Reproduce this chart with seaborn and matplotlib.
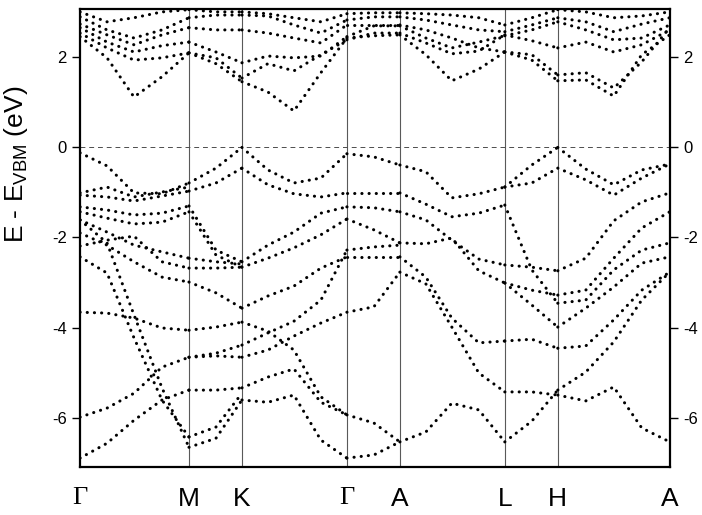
import matplotlib
matplotlib.use('Agg')
import matplotlib.pyplot as plt
import seaborn as sns
import pandas as pd

k_nodes = [0.00, 0.27, 0.54, 0.82, 1.09, 1.36, 1.62, 1.88, 2.14, 2.41, 2.67,
           2.94, 3.20, 3.46, 3.72, 3.99, 4.25, 4.52, 4.78, 5.06, 5.34, 5.62, 5.90]
sym_pos = [0.00, 1.09, 1.62, 2.67, 3.20, 4.25, 4.78, 5.90]
sym_labels = ['Γ', 'M', 'K', 'Γ', 'A', 'L', 'H', 'A']
# node index ranges of the path pieces Γ-M, M-K, K-Γ, Γ-A, A-L, L-H, H-A
pieces = [(0, 4), (4, 6), (6, 10), (10, 12), (12, 16), (16, 18), (18, 22)]

N = None

# conduction bands (eV)
cb1 = [2.46, 1.99, 1.12, 1.57, 2.10, 1.86, 1.46, 1.23, 0.81, 1.66, 2.43, 2.48, 2.50, 2.06, 1.48, 1.74, 2.12, 1.94, 1.48, 1.50, 1.14, 2.06, 2.50]
cb2 = [2.54, 2.21, 1.94, 1.99, 2.10, 1.99, 1.54, 1.86, 1.70, 2.06, 2.39, 2.54, 2.54, 2.32, 2.08, 2.14, 2.50, 2.37, 2.21, 2.34, 2.12, 2.28, 2.61]
cb3 = [2.66, 2.34, 2.12, 2.26, 2.34, 2.12, 1.88, 2.03, 1.99, 2.03, 2.46, 2.70, 2.70, 2.43, 2.21, 2.34, 2.48, 2.61, 2.79, 2.61, 2.39, 2.43, 2.72]
cb4 = [2.74, 2.50, 2.28, 2.50, 2.66, 2.61, 2.61, 2.54, 2.43, 2.32, 2.72, 2.72, 2.72, 2.61, 2.43, 2.21, 2.12, 2.06, 1.61, 1.66, 1.32, 1.90, 2.66]
cb5 = [2.90, 2.61, 2.43, 2.61, 2.88, 2.94, 2.94, 2.92, 2.72, 2.54, 2.83, 2.90, 2.90, 2.83, 2.72, 2.61, 2.57, 2.72, 2.88, 2.79, 2.57, 2.74, 2.88]
cb6 = [3.01, 2.79, 2.88, 3.01, 3.06, 3.01, 3.01, 2.97, 2.88, 2.79, 2.97, 2.99, 2.99, 2.97, 2.94, 2.88, 2.72, 2.88, 3.06, 3.01, 2.88, 2.92, 3.01]

# valence bands (eV); None = piece not drawn for that band
vb_a = [-0.12, -0.41, -1.01, -1.03, -0.79, -0.46, 0.00, -0.50, -0.79, -0.68, -0.14, -0.21, -0.39, -0.54, -1.12, -1.03, -0.88, -0.39, 0.00, -0.48, -0.83, -0.50, -0.37]
vb_b = [-1.06, -1.10, -1.19, -1.08, -0.97, -0.79, -0.46, -0.83, -1.03, -1.10, -1.01, -1.01, -1.01, -1.26, -1.54, -1.46, -1.28, -2.72, -3.46, -3.39, -2.72, -2.28, -2.12]
vb_c = [-1.01, -0.88, -1.10, -0.99, -0.88, N, N, N, N, N, N, N, N, N, N, N, N, N, N, N, N, N, N]
vb_d = [-1.32, -1.39, -1.50, -1.46, -1.30, -2.28, -2.54, -2.17, -1.88, -1.46, -1.32, -1.34, -1.43, -1.61, -2.06, -2.48, -2.61, -2.66, -2.74, -2.46, -1.63, -1.21, -1.01]
vb_e = [-1.43, -1.57, -1.70, -1.66, -1.43, -2.39, -2.66, -2.46, -2.23, -1.94, -1.59, -1.83, -2.12, -2.14, -2.01, -2.74, -3.01, -3.17, -3.28, -3.17, -2.46, -1.79, -1.43]
vb_f = [-1.61, -1.88, -2.17, -2.32, -2.46, -2.54, -2.59, N, N, N, N, N, N, N, N, N, N, N, N, N, N, N, N]
vb_g = [-1.61, -2.12, -3.72, -5.34, -6.66, -6.46, -5.61, -5.66, -5.50, -6.50, -6.90, -6.83, -6.54, N, N, N, N, N, N, N, N, N, N]
vb_h = [-2.19, -2.06, -1.97, -2.54, -2.68, -2.68, -2.66, N, N, N, N, N, N, N, N, N, N, N, N, N, N, N, N]
vb_i = [-1.90, -2.17, -2.54, -2.88, -2.99, -3.23, -3.57, -3.30, -3.08, -2.68, -2.43, -2.43, -2.43, -2.88, -3.79, -4.34, -4.30, -4.26, -4.46, -4.41, -3.83, -3.17, -2.77]
vb_j = [-2.43, -2.79, -4.23, -5.61, -6.43, -6.21, -5.46, N, N, N, N, N, N, N, N, N, N, N, N, N, N, N, N]
vb_k = [-3.66, -3.68, -3.79, -4.01, -4.06, -3.99, -3.88, -4.08, -4.50, -5.54, -5.94, N, N, N, N, N, N, N, N, N, N, N, N]
vb_l = [-5.99, -5.79, -5.46, -4.88, -4.66, -4.57, -4.39, -4.12, -3.86, -3.39, -2.28, -2.21, -2.17, N, N, N, N, N, N, N, N, N, N]
vb_m = [-6.90, -6.57, -6.06, -5.61, -5.39, -5.39, -5.34, -5.10, -4.92, -5.66, -5.94, -6.12, -6.54, -6.32, -5.68, -5.83, -6.54, -6.08, -5.39, -4.99, -4.32, -3.39, -2.77]
vb_o = [N, N, N, N, -4.66, -4.63, -4.66, -4.50, -4.19, -3.90, -3.66, -3.54, -2.77, -3.03, -3.99, -5.01, -5.43, -5.43, -5.50, -5.63, -5.32, -6.23, -6.54]
vb_q = [N, N, N, N, N, N, N, N, N, N, N, N, N, N, N, N, -3.01, -3.50, -3.99, -3.57, -3.10, -2.57, -2.43]
vb_r = [N, N, N, N, N, N, N, N, N, N, N, N, N, N, N, N, -0.88, -0.79, -0.46, -0.72, -1.06, -0.68, -0.37]

bands = [cb1, cb2, cb3, cb4, cb5, cb6,
         vb_a, vb_b, vb_c, vb_d, vb_e, vb_f, vb_g, vb_h, vb_i,
         vb_j, vb_k, vb_l, vb_m, vb_o, vb_q, vb_r]

rows = []
unit = 0
for b in bands:
    for s, e in pieces:
        vals = b[s:e + 1]
        if any(v is None for v in vals):
            continue
        for k, v in zip(k_nodes[s:e + 1], vals):
            rows.append({'unit': unit, 'k': k, 'E': v})
        unit += 1
df = pd.DataFrame(rows)

sns.set_style('ticks', {'axes.edgecolor': 'black', 'xtick.color': 'black',
                        'ytick.color': 'black', 'text.color': 'black',
                        'axes.labelcolor': 'black'})
plt.rcParams['font.family'] = ['Liberation Sans', 'DejaVu Sans']
plt.rcParams['mathtext.fontset'] = 'custom'
plt.rcParams['mathtext.rm'] = 'Liberation Sans'
plt.rcParams['axes.unicode_minus'] = False

fig = plt.figure(figsize=(7.02, 5.15), dpi=100)
ax = fig.add_axes([0.114, 0.093, 0.84, 0.89])

sns.lineplot(data=df, x='k', y='E', units='unit', estimator=None, sort=False,
             color='black', linewidth=2.2, linestyle=(0, (0.05, 2.3)),
             dash_capstyle='round', ax=ax)

for x in sym_pos[1:-1]:
    ax.axvline(x, color='0.35', linewidth=0.8, zorder=0)
ax.axhline(0, color='0.3', linewidth=0.7, linestyle=(0, (5, 4)), zorder=0)

ax.set_xlim(sym_pos[0], sym_pos[-1])
ax.set_ylim(-7.1, 3.08)
ax.set_yticks([-6, -4, -2, 0, 2])
ax.tick_params(axis='y', direction='out', length=6, width=1, labelsize=12,
               right=True, labelright=True)
ax.set_xticks(sym_pos)
ax.set_xticklabels(sym_labels)
ax.tick_params(axis='x', length=0, labelsize=19, pad=14)
for lab in ax.get_xticklabels():
    if lab.get_text() == 'Γ':
        lab.set_family(['Liberation Serif', 'DejaVu Serif'])
ax.set_xlabel('')
ax.set_ylabel(r'E - E$_{\rm VBM}$ (eV)', fontsize=19)
ax.yaxis.set_label_coords(-0.085, 0.66)
for s in ax.spines.values():
    s.set_linewidth(1.6)

fig.savefig('out.png', dpi=100)
